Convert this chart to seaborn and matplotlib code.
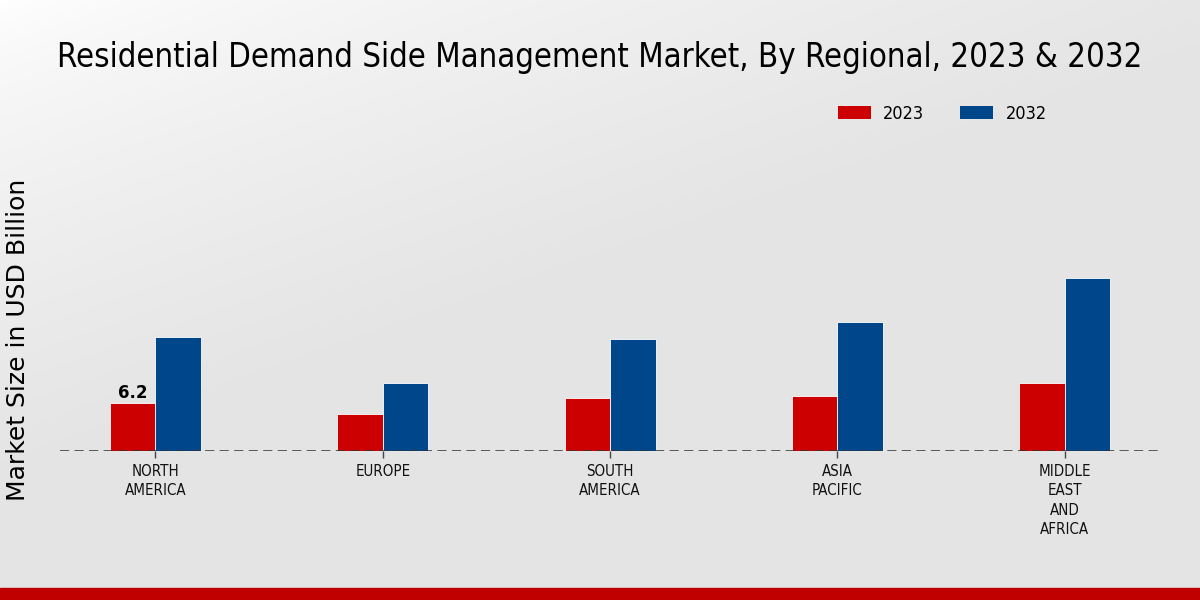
import numpy as np
import pandas as pd
import matplotlib
matplotlib.use("Agg")
import matplotlib.pyplot as plt
import seaborn as sns
from matplotlib.patches import Patch

regions = ["NORTH\nAMERICA", "EUROPE", "SOUTH\nAMERICA", "ASIA\nPACIFIC", "MIDDLE\nEAST\nAND\nAFRICA"]
values_2023 = [6.2, 4.8, 6.8, 7.1, 8.8]
values_2032 = [14.7, 8.8, 14.5, 16.7, 22.3]
years = ["2023", "2032"]
colors = {"2023": "#cc0000", "2032": "#00468b"}

df = pd.DataFrame({
    "Region": regions * 2,
    "Year": [years[0]] * len(regions) + [years[1]] * len(regions),
    "Value": values_2023 + values_2032,
})

sns.set_theme(style="white")
plt.rcParams['font.family'] = ['DejaVu Sans']
plt.rcParams['text.color'] = 'black'
COND = dict(family="DejaVu Sans", stretch="condensed")

fig = plt.figure(figsize=(12, 6), dpi=100)

# background gradient
bg = fig.add_axes([0, 0, 1, 1], zorder=-10)
yy, xx = np.mgrid[0:1:300j, 0:1:600j]
t = np.clip((xx * 0.7 + yy * 1.0) / 0.8, 0, 1) ** 0.7
shade = 1.0 - 0.105 * t
bg.imshow(np.dstack([shade, shade, shade]), extent=[0, 1, 0, 1], aspect="auto", origin="upper")
bg.axis("off")
bg.set_xlim(0, 1); bg.set_ylim(0, 1)
bg.add_patch(plt.Rectangle((0, 0), 1, 12/600, color="#c00000", transform=bg.transAxes, zorder=5))

ax = fig.add_axes([0.05, 0.2483, 0.915, 0.516])
ax.patch.set_alpha(0)
sns.barplot(data=df, x="Region", y="Value", hue="Year", order=regions, hue_order=years,
            palette=colors, width=0.4, saturation=1,
            edgecolor="white", linewidth=0.6, ax=ax, legend=False)
ax.set_xlim(-0.42, 4.41)
ax.set_ylim(0, 40)
ax.axhline(0, color="#333333", linestyle=(0, (6, 3.5)), linewidth=1.1, zorder=5)
for s in ax.spines.values():
    s.set_visible(False)
ax.set_yticks([])
ax.set_xlabel("")
ax.set_ylabel("")
ax.tick_params(axis="x", length=5, color="#444444", width=1, pad=4, bottom=True, labelcolor="#111111")
for lbl in ax.get_xticklabels():
    lbl.set_fontfamily("DejaVu Sans")
    lbl.set_fontstretch("condensed")
    lbl.set_fontsize(10.8)
    lbl.set_linespacing(1.38)

fig.text(18/1200, 1 - 340/600, "Market Size in USD Billion", rotation=90,
         ha="center", va="center", fontsize=18, color="black")

# value label
ax.text(0 - 0.1, values_2023[0] + 0.15, "6.2", ha="center", va="bottom", fontsize=12, fontweight="bold")

handles = [Patch(facecolor=colors[y], edgecolor="none", label=y) for y in years]
fig.legend(handles=handles, loc="center left", bbox_to_anchor=(838/1200, 1 - 114/600), ncol=2,
           frameon=False, prop=dict(size=13, **COND), handlelength=1.8, handleheight=0.75,
           columnspacing=2.0, handletextpad=0.7, borderpad=0, borderaxespad=0)

fig.text(0.5, 1 - 57/600, "Residential Demand Side Management Market, By Regional, 2023 & 2032",
         ha="center", va="center", fontsize=23.6, **COND)

fig.savefig("out.png", dpi=100)
